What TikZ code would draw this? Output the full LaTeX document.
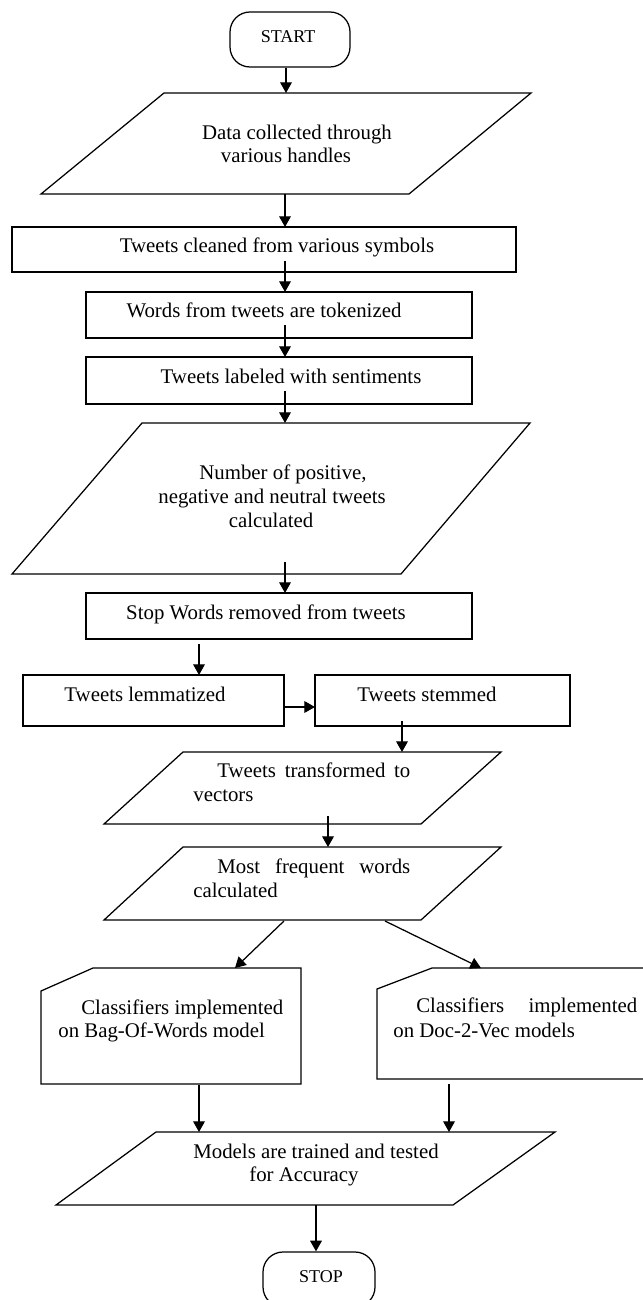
\documentclass[tikz,border=0pt]{standalone}
\usepackage{fontspec}
\setmainfont{Liberation Serif}
\usetikzlibrary{arrows.meta}
\begin{document}
\begin{tikzpicture}[x=0.6pt,y=-0.6pt,
  shp/.style={draw=black,line width=0.75pt,line join=miter},
  term/.style={draw=black,line width=0.75pt,rounded corners=12pt,minimum height=33pt,inner sep=0pt},
  arr/.style={draw=black,line width=0.75pt,-{Triangle[length=6.4pt,width=7pt]}},
  txt/.style={inner sep=0pt,anchor=mid,font=\fontsize{12.5}{15}\selectfont},
  ttxt/.style={inner sep=0pt,anchor=mid,font=\fontsize{10.8}{13}\selectfont},
  txtw/.style={inner sep=0pt,anchor=mid west,font=\fontsize{12.5}{15}\selectfont}]
\useasboundingbox (0,0) rectangle (643,1300);
\begin{scope}
\clip (0,0) rectangle (643,1300);
% terminals
\node[term,minimum width=72pt] (start) at (290,39.5) {};
\node[ttxt] (tstart) at (288,39) {START};
\node[term,minimum width=67.2pt] (stop) at (319,1279.5) {};
\node[ttxt] (tstop) at (321,1279) {STOP};
% shapes
\draw[shp] (164,93) -- (531,93) -- (409,194) -- (41,194) -- cycle;
\draw[shp] (12,227) rectangle (516,272);
\draw[shp] (86,292) rectangle (472,338);
\draw[shp] (86,357) rectangle (472,404);
\draw[shp] (142,423) -- (530,423) -- (401,574) -- (12,574) -- cycle;
\draw[shp] (86,593) rectangle (472,639);
\draw[shp] (23,675) rectangle (284,726);
\draw[shp] (315,675) rectangle (570,726);
\draw[shp] (183,752) -- (501,752) -- (421,824) -- (104,824) -- cycle;
\draw[shp] (183,847) -- (501,847) -- (421,920) -- (104,920) -- cycle;
\draw[shp] (93,968) -- (301,968) -- (301,1084) -- (41,1084) -- (41,991) -- cycle;
\draw[shp] (432,968) -- (648,968) -- (648,1079) -- (377,1079) -- (377,989) -- cycle;
\draw[shp] (156,1132) -- (555,1132) -- (453,1205) -- (56,1205) -- cycle;
% texts
\node[txt] (t1a) at (297,136) {Data collected through};
\node[txt] (t1b) at (286,159) {various handles};
\node[txt] (t2) at (277,249) {Tweets cleaned from various symbols};
\node[txt] (t3) at (264,314) {Words from tweets are tokenized};
\node[txt] (t4) at (291,380) {Tweets labeled with sentiments};
\node[txt] (t5a) at (283,476) {Number of positive,};
\node[txt] (t5b) at (272,500) {negative and neutral tweets};
\node[txt] (t5c) at (271,524) {calculated};
\node[txt] (t6) at (266,616) {Stop Words removed from tweets};
\node[txt] (t7) at (145,698) {Tweets lemmatized};
\node[txt] (t8) at (427,698) {Tweets stemmed};
\node[txtw] (t9a) at (217,774) {\makebox[115.8pt][s]{Tweets transformed to}};
\node[txtw] (t9b) at (193,798) {vectors};
\node[txtw] (t10a) at (217,870) {\makebox[115.8pt][s]{Most frequent words}};
\node[txtw] (t10b) at (193,894) {calculated};
\node[txtw] (t11a) at (81,1011) {Classifiers implemented};
\node[txtw] (t11b) at (58,1034) {on Bag-Of-Words model};
\node[txtw] (t12a) at (416,1009) {\makebox[132.6pt][s]{Classifiers implemented}};
\node[txtw] (t12b) at (393,1034) {on Doc-2-Vec models};
\node[txt] (t13a) at (316,1155) {Models are trained and tested};
\node[txt] (t13b) at (304,1178) {for Accuracy};
% connector end points
\coordinate (p1n) at (286,93);
\coordinate (p1s) at (285,194);
\coordinate (b1n) at (285,227);
\coordinate (b1s) at (285,261);
\coordinate (b2n) at (285,292);
\coordinate (b2s) at (285,325);
\coordinate (b3n) at (285,357);
\coordinate (b3s) at (285,391);
\coordinate (p2n) at (285,423);
\coordinate (p2s) at (285,562);
\coordinate (b4n) at (285,593);
\coordinate (b4s) at (199,644);
\coordinate (b5n) at (199,675);
\coordinate (b5e) at (284,707);
\coordinate (b6w) at (315,707);
\coordinate (b6s) at (402,721);
\coordinate (p3n) at (402,752);
\coordinate (p3s) at (328,816);
\coordinate (p4n) at (328,847);
\coordinate (p4sl) at (284,921);
\coordinate (p4sr) at (385,921);
\coordinate (c1n) at (235,968);
\coordinate (c2n) at (481,968);
\coordinate (c1s) at (199,1085);
\coordinate (c2s) at (449,1084);
\coordinate (p5nl) at (199,1132);
\coordinate (p5nr) at (449,1132);
\coordinate (p5s) at (316,1205);
% connectors
\draw[arr] (start.south -| p1n) -- (p1n);
\draw[arr] (p1s) -- (b1n);
\draw[arr] (b1s) -- (b2n);
\draw[arr] (b2s) -- (b3n);
\draw[arr] (b3s) -- (p2n);
\draw[arr] (p2s) -- (b4n);
\draw[arr] (b4s) -- (b5n);
\draw[arr] (b5e) -- (b6w);
\draw[arr] (b6s) -- (p3n);
\draw[arr] (p3s) -- (p4n);
\draw[arr] (p4sl) -- (c1n);
\draw[arr] (p4sr) -- (c2n);
\draw[arr] (c1s) -- (p5nl);
\draw[arr] (c2s) -- (p5nr);
\draw[arr] (p5s) -- (stop.north -| p5s);
\end{scope}
\end{tikzpicture}
\end{document}
